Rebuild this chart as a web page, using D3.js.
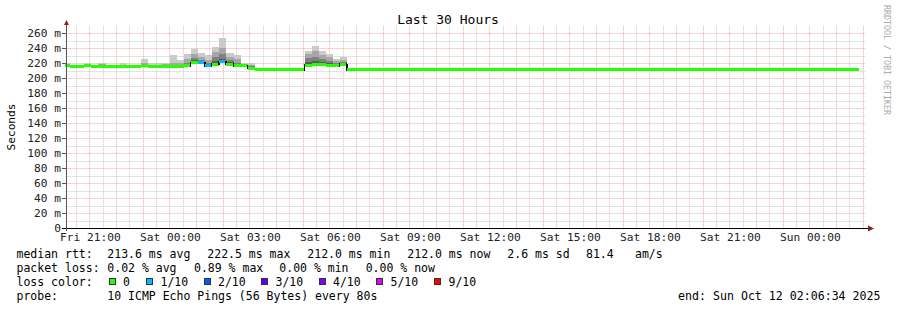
<!DOCTYPE html>
<html lang="en">
<head>
<meta charset="UTF-8">
<title>Last 30 Hours</title>
<style>
  body { margin: 0; background: #fff; }
  svg { display: block; font-family: "DejaVu Sans Mono", monospace; }
</style>
</head>
<body>
<div id="graph"></div>
<script src="https://d3js.org/d3.v7.min.js"></script>
<script>

// --- data ---
const chartTitle = "Last 30 Hours";
const rangeStart = new Date(2025, 9, 10, 20, 6, 34);
const rangeEnd   = new Date(2025, 9, 12, 2, 6, 34);
const binStart   = new Date(2025, 9, 10, 20, 0, 30);   // first 16 min bin
const binMinutes = 16;

// median rtt per bin (ms)
const median = [
  217, 215.5, 215.5, 216.5, 215.5, 215.5, 215.5, 215.5, 215.5, 215.5,
  215.5, 217.5, 215.5, 215.5, 215.5, 215.5, 215.5, 216.5, 221, 221,
  216.5, 219, 222, 219, 216.5, 216.5, 213.5, 211.5, 211.5, 211.5,
  211.5, 211.5, 211.5, 211.5, 217.5, 218.5, 218.5, 217, 216.5, 219,
  211.5, 211.5, 211.5, 211.5, 211.5, 211.5, 211.5, 211.5, 211.5, 211.5,
  211.5, 211.5, 211.5, 211.5, 211.5, 211.5, 211.5, 211.5, 211.5, 211.5,
  211.5, 211.5, 211.5, 211.5, 211.5, 211.5, 211.5, 211.5, 211.5, 211.5,
  211.5, 211.5, 211.5, 211.5, 211.5, 211.5, 211.5, 211.5, 211.5, 211.5,
  211.5, 211.5, 211.5, 211.5, 211.5, 211.5, 211.5, 211.5, 211.5, 211.5,
  211.5, 211.5, 211.5, 211.5, 211.5, 211.5, 211.5, 211.5, 211.5, 211.5,
  211.5, 211.5, 211.5, 211.5, 211.5, 211.5, 211.5, 211.5, 211.5, 211.5,
  211.5, 211.5
];

// lost pings out of 10, per bin
const lossCount = [
  0, 0, 0, 0, 0, 0, 0, 0, 0, 0,
  0, 0, 0, 0, 0, 0, 0, 0, 0, 1,
  1, 0, 1, 0, 0, 0, 0, 0, 0, 0,
  0, 0, 0, 0, 0, 0, 0, 0, 0, 0,
  0, 0, 0, 0, 0, 0, 0, 0, 0, 0,
  0, 0, 0, 0, 0, 0, 0, 0, 0, 0,
  0, 0, 0, 0, 0, 0, 0, 0, 0, 0,
  0, 0, 0, 0, 0, 0, 0, 0, 0, 0,
  0, 0, 0, 0, 0, 0, 0, 0, 0, 0,
  0, 0, 0, 0, 0, 0, 0, 0, 0, 0,
  0, 0, 0, 0, 0, 0, 0, 0, 0, 0,
  0, 0
];

// smoke: upper ping levels for the first 40 bins (later bins have none)
const smokeMax = [
  221, 217, 217, 221, 217, 221, 217, 217, 220, 217,
  217, 226, 220, 220, 221, 231, 224, 232, 239.5, 234,
  231, 242, 254, 234, 231.5, 221, 221, 211.5, 211.5, 211.5,
  211.5, 211.5, 211.5, 211.5, 237, 243, 237, 232, 226, 228
];
const smokeP9 = [
  219, 216.5, 216.5, 219, 216.5, 218.5, 216.5, 216.5, 218, 216.5,
  216.5, 221, 218, 218, 218.5, 221, 220, 226, 233, 228,
  224, 235, 240, 229, 226, 219.5, 218, 211.5, 211.5, 211.5,
  211.5, 211.5, 211.5, 211.5, 232, 236, 231, 228, 223, 225
];
const smokeP8 = [
  218, 216, 216, 218, 216, 217, 216, 216, 217, 216,
  216, 219.5, 217, 217, 217, 218, 218, 221, 227, 225,
  221, 228, 232, 225, 221, 218.5, 216, 211.5, 211.5, 211.5,
  211.5, 211.5, 211.5, 211.5, 227, 229, 226, 223, 220, 222
];
const smokeP7 = [
  217.5, 216, 216, 217, 216, 216, 216, 216, 216, 216,
  216, 218.5, 216, 216, 216, 216.5, 216.5, 218.5, 224, 223,
  219, 223, 226, 222, 219, 217.5, 215, 211.5, 211.5, 211.5,
  211.5, 211.5, 211.5, 211.5, 222, 223, 222, 220, 218.5, 220.5
];

const lossLabels = ["0", "1/10", "2/10", "3/10", "4/10", "5/10", "9/10"];
const lossColors = ["#26ff00", "#00b8ff", "#0059ff", "#5e00ff", "#7e00ff", "#dd00ff", "#ff0000"];
const lossSteps  = [0, 1, 2, 3, 4, 5, 9];

const rttStats  = ["213.6 ms avg", "222.5 ms max", "212.0 ms min", "212.0 ms now", "2.6 ms sd", "81.4", "am/s"];
const lossStats = ["0.02 % avg", "0.89 % max", "0.00 % min", "0.00 % now"];
const probeText = "10 ICMP Echo Pings (56 Bytes) every 80s";
const endText   = "end: Sun Oct 12 02:06:34 2025";

// --- drawing ---
const W = 897, H = 310;
const svg = d3.select('#graph').append('svg')
  .attr('width', W).attr('height', H);

const x = d3.scaleTime().domain([rangeStart, rangeEnd]).range([65.6, 865.6]);
const y = d3.scaleLinear().domain([0, 270]).range([228.3, 25.8]);

const binTime = i => d3.timeMinute.offset(binStart, binMinutes * i);

svg.append('clipPath').attr('id', 'plot')
  .append('rect')
  .attr('x', x.range()[0]).attr('y', y(270))
  .attr('width', x.range()[1] - x.range()[0]).attr('height', y(0) - y(270));

// grid
const grid = svg.append('g').attr('fill', 'none').attr('stroke-width', 1);
const minorX = d3.timeMinute.every(30).range(rangeStart, rangeEnd).filter(d => d.getMinutes() === 30);
const majorX = d3.timeHour.every(1).range(rangeStart, rangeEnd);

grid.selectAll('.gx').data(minorX).enter().append('line')
  .attr('x1', d => Math.round(x(d)) + 0.5).attr('x2', d => Math.round(x(d)) + 0.5)
  .attr('y1', y(270)).attr('y2', y(0))
  .attr('stroke', '#c8c8c8').attr('stroke-dasharray', '1,1');

grid.selectAll('.gy').data(d3.range(10, 270, 20)).enter().append('line')
  .attr('x1', x.range()[0]).attr('x2', x.range()[1])
  .attr('y1', d => Math.round(y(d)) + 0.5).attr('y2', d => Math.round(y(d)) + 0.5)
  .attr('stroke', '#c8c8c8').attr('stroke-dasharray', '1,1');

grid.selectAll('.mx').data(majorX).enter().append('line')
  .attr('x1', d => Math.round(x(d)) + 0.5).attr('x2', d => Math.round(x(d)) + 0.5)
  .attr('y1', y(270)).attr('y2', y(0))
  .attr('stroke', '#f4a8a8').attr('stroke-dasharray', '1,1');

grid.selectAll('.my').data(d3.range(20, 270, 20)).enter().append('line')
  .attr('x1', x.range()[0]).attr('x2', x.range()[1])
  .attr('y1', d => Math.round(y(d)) + 0.5).attr('y2', d => Math.round(y(d)) + 0.5)
  .attr('stroke', '#f4a8a8').attr('stroke-dasharray', '1,1');

// smoke
const plot = svg.append('g').attr('clip-path', 'url(#plot)').attr('shape-rendering', 'crispEdges');
const smokeLayers = [
  { top: smokeMax, color: '#cacaca' },
  { top: smokeP9,  color: '#a6a6a6' },
  { top: smokeP8,  color: '#808080' },
  { top: smokeP7,  color: '#5a5a5a' }
];
smokeLayers.forEach(layer => {
  plot.append('g').selectAll('rect').data(layer.top).enter().append('rect')
    .attr('x', (d, i) => x(binTime(i)))
    .attr('width', (d, i) => x(binTime(i + 1)) - x(binTime(i)))
    .attr('y', d => y(d))
    .attr('height', (d, i) => Math.max(0, y(median[i]) - y(d)))
    .attr('fill', layer.color);
});

// median: thin black step line under a 3px loss-coloured band
const pts = median.map((m, i) => [binTime(i), m]);
pts.push([binTime(median.length), median[median.length - 1]]);
plot.append('path').datum(pts)
  .attr('fill', 'none').attr('stroke', '#000').attr('stroke-width', 1)
  .attr('d', d3.line().x(d => x(d[0])).y(d => y(d[1])).curve(d3.curveStepAfter));

const swidth = 4;
plot.append('g').selectAll('rect').data(median).enter().append('rect')
  .attr('x', (d, i) => x(binTime(i)))
  .attr('width', (d, i) => x(binTime(i + 1)) - x(binTime(i)))
  .attr('y', d => y(d + swidth / 2))
  .attr('height', d => y(d - swidth / 2) - y(d + swidth / 2))
  .attr('fill', (d, i) => lossColors[lossSteps.indexOf(lossCount[i])]);

const steps = median.map((m, i) => i).filter(i => i > 0 && Math.abs(median[i] - median[i - 1]) >= 2.5);
plot.append('g').selectAll('line').data(steps).enter().append('line')
  .attr('x1', i => Math.round(x(binTime(i))) - 0.5).attr('x2', i => Math.round(x(binTime(i))) - 0.5)
  .attr('y1', i => y(Math.max(median[i], median[i - 1])) - 1)
  .attr('y2', i => y(Math.min(median[i], median[i - 1])) + 1)
  .attr('stroke', '#000').attr('stroke-width', 1);

// axes
const axis = svg.append('g').attr('shape-rendering', 'crispEdges');
axis.append('line').attr('x1', 62).attr('x2', 869).attr('y1', 228.5).attr('y2', 228.5)
  .attr('stroke', '#000');
axis.append('line').attr('x1', 66.5).attr('x2', 66.5).attr('y1', 231).attr('y2', 24)
  .attr('stroke', '#555');
axis.selectAll('.ty').data(d3.range(20, 261, 20)).enter().append('line')
  .attr('x1', 62).attr('x2', 66).attr('y1', d => Math.round(y(d)) + 0.5).attr('y2', d => Math.round(y(d)) + 0.5)
  .attr('stroke', '#555');
svg.append('path').attr('d', 'M64,25 L69,25 L66.5,20 Z').attr('fill', '#8e1f1f');
svg.append('path').attr('d', 'M868,225.5 L868,231.5 L874,228.5 Z').attr('fill', '#8e1f1f');

// tick labels
svg.append('g').attr('font-size', '11.2px').attr('fill', '#222').attr('text-anchor', 'end')
  .selectAll('text').data(y.ticks(14).filter(d => d % 20 === 0 && d <= 260)).enter().append('text')
  .attr('x', 61).attr('y', d => y(d) + 4)
  .text(d => d === 0 ? '0' : d + ' m');

const xLabels = d3.timeHour.every(3).range(rangeStart, rangeEnd);
const fmt = d3.timeFormat('%a %H:%M');
svg.append('g').attr('font-size', '11.2px').attr('fill', '#222').attr('text-anchor', 'middle')
  .selectAll('text').data(xLabels).enter().append('text')
  .attr('x', d => x(d) + 1).attr('y', 241)
  .text(d => fmt(d));

// titles
svg.append('text').attr('x', 448).attr('y', 24).attr('text-anchor', 'middle')
  .attr('font-size', '13px').attr('fill', '#000').text(chartTitle);
svg.append('text').attr('transform', 'translate(15,127) rotate(-90)').attr('text-anchor', 'middle')
  .attr('font-size', '11.2px').attr('fill', '#000').text('Seconds');
svg.append('text').attr('transform', 'translate(884,5) rotate(90)')
  .attr('font-size', '8.3px').attr('fill', '#aaa').text('RRDTOOL / TOBI OETIKER');

// legend
const leg = svg.append('g').attr('font-size', '11.5px').attr('fill', '#000');
const col = 107.3;
leg.append('text').attr('x', 16.5).attr('y', 258).text('median rtt:');
const rttX = [col, 207.3, 307.3, 407.3, 507.3, 586, 635];
leg.selectAll('.rtt').data(rttStats).enter().append('text')
  .attr('x', (d, i) => rttX[i]).attr('y', 258).text(d => d);

leg.append('text').attr('x', 16.5).attr('y', 272).text('packet loss:');
const lossX = [col, 194, 279.3, 365.7];
leg.selectAll('.pl').data(lossStats).enter().append('text')
  .attr('x', (d, i) => lossX[i]).attr('y', 272).text(d => d);

leg.append('text').attr('x', 16.5).attr('y', 286).text('loss color:');
const boxX = [108.5, 146, 203.5, 261, 318.5, 376, 434];
lossLabels.forEach((lab, i) => {
  leg.append('rect').attr('x', boxX[i] + 0.5).attr('y', 278.5).attr('width', 6).attr('height', 6)
    .attr('fill', lossColors[i]).attr('stroke', '#333').attr('stroke-width', 1)
    .attr('shape-rendering', 'crispEdges');
  leg.append('text').attr('x', boxX[i] + 14.5).attr('y', 286).text(lab);
});

leg.append('text').attr('x', 16.5).attr('y', 300).text('probe:');
leg.append('text').attr('x', col).attr('y', 300).text(probeText);
leg.append('text').attr('x', 880.5).attr('y', 300).attr('text-anchor', 'end')
  .attr('font-size', '11.6px').text(endText);

</script>
</body>
</html>
